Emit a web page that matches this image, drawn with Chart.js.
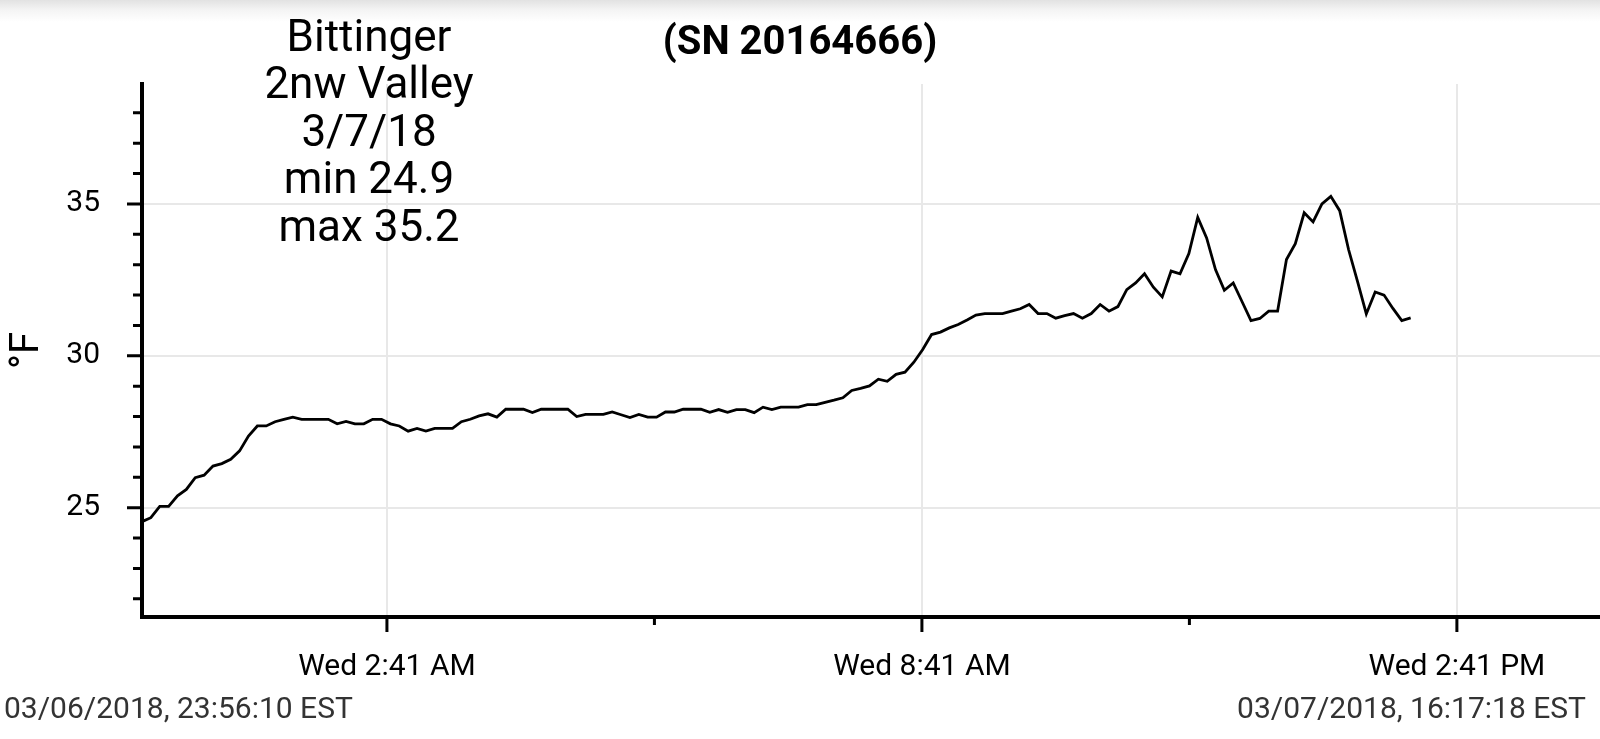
<!DOCTYPE html>
<html>
<head>
<meta charset="utf-8">
<script src="https://cdn.jsdelivr.net/npm/chart.js"></script>
<style>
  html, body { margin: 0; padding: 0; }
  body {
    width: 1600px; height: 739px; overflow: hidden;
    background: #fff linear-gradient(to bottom, #e2e2e2 0px, #f4f4f4 10px, #fff 22px) no-repeat;
    background-size: 100% 22px;
  }
  canvas { display: block; }
</style>
</head>
<body>
<canvas id="chart" width="1600" height="739"></canvas>
<script>
// logger readings, one every ~6 minutes from 03/06/2018 23:56:10 EST (°F)
var sampleMinutes = 5.97;
var temps = [
  24.54, 24.67, 25.04, 25.04, 25.39, 25.60, 25.99, 26.07, 26.37, 26.45,
  26.59, 26.87, 27.36, 27.69, 27.69, 27.83, 27.91, 27.98, 27.91, 27.91,
  27.91, 27.91, 27.76, 27.84, 27.76, 27.76, 27.91, 27.91, 27.76, 27.69,
  27.52, 27.61, 27.52, 27.61, 27.61, 27.61, 27.83, 27.91,
  28.02, 28.09, 27.98, 28.24, 28.24, 28.24, 28.13, 28.24, 28.24, 28.24,
  28.24, 28.00, 28.07, 28.07, 28.07, 28.15, 28.06, 27.97, 28.07, 27.98,
  27.98, 28.15, 28.15, 28.24, 28.24, 28.24, 28.14, 28.23, 28.14, 28.23,
  28.23, 28.13, 28.31, 28.23, 28.31, 28.31, 28.31,
  28.39, 28.39, 28.47, 28.54, 28.62, 28.86, 28.93, 29.01, 29.23, 29.16,
  29.39, 29.46, 29.79, 30.21, 30.70, 30.78, 30.92, 31.03, 31.18, 31.34,
  31.39, 31.39, 31.39, 31.47, 31.55, 31.69, 31.39, 31.39, 31.24, 31.32,
  31.39, 31.24, 31.39, 31.69, 31.47, 31.62,
  32.18, 32.40, 32.70, 32.26, 31.94, 32.79, 32.70, 33.37, 34.56, 33.88,
  32.84, 32.16, 32.40, 31.78, 31.16, 31.23, 31.47, 31.47, 33.17, 33.69,
  34.71, 34.41, 35.00, 35.25, 34.78, 33.50, 32.46, 31.38, 32.10, 32.00,
  31.56, 31.16, 31.25
];

// x axis in hours since the first reading
var spanHours = 16.352;                 // 23:56:10 -> 16:17:18
var xTickHours = [2.747, 5.747, 8.747, 11.747, 14.747];
var xTickLabels = ['Wed 2:41 AM', '', 'Wed 8:41 AM', '', 'Wed 2:41 PM'];

var yMin = 21.4, yMax = 38.95;
var yTicks = [22, 23, 24, 25, 26, 27, 28, 29, 30, 31, 32, 33, 34, 35, 36, 37, 38];
var yLabelled = [25, 30, 35];

var chartTitle = '(SN 20164666)';
var noteLines = ['Bittinger', '2nw Valley', '3/7/18', 'min 24.9', 'max 35.2'];
var startStamp = '03/06/2018, 23:56:10 EST';
var endStamp = '03/07/2018, 16:17:18 EST';

Chart.defaults.font.family = 'Roboto';
Chart.defaults.color = '#000';

var points = temps.map(function(v, i){ return { x: i * sampleMinutes / 60, y: v }; });

// short/long tick marks outside the axis lines
var tickMarks = {
  id: 'tickMarks',
  afterDraw: function(chart) {
    var ctx = chart.ctx, area = chart.chartArea;
    var xs = chart.scales.x, ys = chart.scales.y;
    ctx.save();
    ctx.strokeStyle = '#000';
    ctx.lineWidth = 3;
    ctx.beginPath();
    ys.ticks.forEach(function(t){
      var y = ys.getPixelForValue(t.value);
      var len = yLabelled.indexOf(t.value) >= 0 ? 15 : 9;
      ctx.moveTo(area.left - len, y);
      ctx.lineTo(area.left, y);
    });
    xs.ticks.forEach(function(t, i){
      var x = xs.getPixelForValue(t.value);
      var len = xTickLabels[i] ? 15 : 8;
      ctx.moveTo(x, area.bottom);
      ctx.lineTo(x, area.bottom + len);
    });
    ctx.stroke();
    ctx.restore();
  }
};

// text block in the plot and the two time stamps under the axis
var notes = {
  id: 'notes',
  afterDraw: function(chart) {
    var ctx = chart.ctx;
    ctx.save();
    ctx.fillStyle = '#000';
    ctx.textAlign = 'center';
    ctx.textBaseline = 'alphabetic';
    ctx.font = '44px Roboto';
    noteLines.forEach(function(line, i){
      ctx.fillText(line, 369, 51 + i * 47.4);
    });
    ctx.fillStyle = '#333';
    ctx.font = '30px Roboto';
    ctx.textAlign = 'left';
    ctx.fillText(startStamp, 4, 718);
    ctx.textAlign = 'right';
    ctx.fillText(endStamp, 1586, 718);
    ctx.restore();
  }
};

new Chart(document.getElementById('chart'), {
  type: 'line',
  data: {
    datasets: [{
      data: points,
      borderColor: '#000',
      borderWidth: 2.8,
      pointRadius: 0,
      tension: 0,
      fill: false
    }]
  },
  options: {
    responsive: false,
    animation: false,
    devicePixelRatio: 1,
    layout: { padding: 0 },
    plugins: {
      legend: { display: false },
      tooltip: { enabled: false },
      title: {
        display: true,
        text: chartTitle,
        font: { size: 40, weight: 'bold' },
        color: '#000',
        padding: { top: 20, bottom: 16 }
      }
    },
    scales: {
      x: {
        type: 'linear',
        min: 0,
        max: spanHours,
        afterBuildTicks: function(s){ s.ticks = xTickHours.map(function(v){ return { value: v }; }); },
        afterFit: function(s){ s.height = 122; },
        ticks: {
          autoSkip: false,
          maxRotation: 0,
          padding: 32,
          font: { size: 30 },
          callback: function(v, i){ return xTickLabels[i]; }
        },
        grid: {
          drawTicks: false,
          lineWidth: 2,
          color: function(c){ return c.tick && xTickLabels[c.index] ? '#e8e8e8' : 'rgba(0,0,0,0)'; }
        },
        border: { color: '#000', width: 4 }
      },
      y: {
        type: 'linear',
        min: yMin,
        max: yMax,
        afterBuildTicks: function(s){ s.ticks = yTicks.map(function(v){ return { value: v }; }); },
        afterFit: function(s){ s.width = 142; },
        ticks: {
          autoSkip: false,
          padding: 42,
          font: { size: 30 },
          callback: function(v){ return yLabelled.indexOf(v) >= 0 ? String(v) : ''; }
        },
        grid: {
          drawTicks: false,
          lineWidth: 2,
          color: function(c){ return c.tick && yLabelled.indexOf(c.tick.value) >= 0 ? '#e8e8e8' : 'rgba(0,0,0,0)'; }
        },
        border: { color: '#000', width: 4 },
        title: {
          display: true,
          text: '°F',
          font: { size: 40 },
          color: '#000',
          padding: { top: 4, bottom: 0 }
        }
      }
    }
  },
  plugins: [tickMarks, notes]
});
</script>
</body>
</html>
